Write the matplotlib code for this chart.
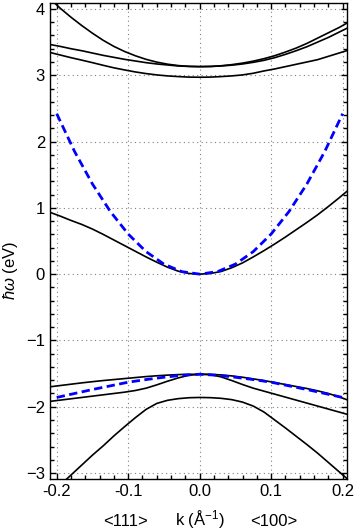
import numpy as np
import matplotlib
matplotlib.use('Agg')
import matplotlib.pyplot as plt
from matplotlib.ticker import MultipleLocator
from matplotlib.transforms import blended_transform_factory

plt.rcParams['font.family'] = 'Liberation Sans'
plt.rcParams['mathtext.fontset'] = 'custom'
plt.rcParams['mathtext.rm'] = 'Liberation Sans'
plt.rcParams['mathtext.it'] = 'Liberation Sans:italic'

# wave vector (1/Angstrom): k<0 along <111>, k>0 along <100>
k = [-0.21, -0.195, -0.18, -0.165, -0.15, -0.135, -0.12, -0.105, -0.09, -0.075,
     -0.06, -0.045, -0.03, -0.015, 0.0, 0.015, 0.03, 0.045, 0.06, 0.075,
     0.09, 0.105, 0.12, 0.135, 0.15, 0.165, 0.18, 0.195, 0.21]

# upper conduction bands (eV)
cb_a = [4.16, 4.01, 3.875, 3.75, 3.634, 3.527, 3.435, 3.358, 3.294, 3.24,
        3.198, 3.167, 3.146, 3.134, 3.13, 3.133, 3.143, 3.16, 3.183, 3.213,
        3.25, 3.295, 3.35, 3.41, 3.48, 3.56, 3.64, 3.72, 3.81]
cb_b = [3.465, 3.435, 3.40, 3.37, 3.335, 3.30, 3.27, 3.24, 3.215, 3.19,
        3.17, 3.155, 3.14, 3.133, 3.13, 3.132, 3.14, 3.152, 3.17, 3.195,
        3.225, 3.265, 3.315, 3.37, 3.43, 3.50, 3.57, 3.65, 3.73]
cb_c = [3.345, 3.305, 3.265, 3.228, 3.19, 3.15, 3.112, 3.08, 3.05, 3.025,
        3.005, 2.99, 2.98, 2.972, 2.97, 2.972, 2.98, 2.99, 3.005, 3.03,
        3.065, 3.095, 3.13, 3.165, 3.20, 3.235, 3.285, 3.335, 3.385]
# lowest conduction band
cb_low = [0.935, 0.875, 0.81, 0.75, 0.68, 0.60, 0.515, 0.43, 0.345, 0.26,
          0.18, 0.105, 0.045, 0.01, 0.0, 0.01, 0.04, 0.097, 0.17, 0.26,
          0.355, 0.455, 0.56, 0.67, 0.78, 0.895, 1.02, 1.15, 1.285]
# valence bands
vb_hh = [-1.70, -1.68, -1.66, -1.64, -1.622, -1.605, -1.59, -1.575, -1.56, -1.545,
         -1.533, -1.523, -1.515, -1.511, -1.51, -1.512, -1.52, -1.535, -1.555, -1.58,
         -1.605, -1.635, -1.665, -1.695, -1.725, -1.76, -1.80, -1.85, -1.91]
vb_lh = [-1.92, -1.90, -1.88, -1.86, -1.84, -1.82, -1.80, -1.78, -1.755, -1.72,
         -1.67, -1.615, -1.565, -1.525, -1.51, -1.515, -1.55, -1.605, -1.665, -1.72,
         -1.765, -1.81, -1.855, -1.90, -1.945, -1.99, -2.035, -2.08, -2.125]
vb_so = [-3.33, -3.18, -3.03, -2.88, -2.73, -2.59, -2.44, -2.30, -2.165, -2.04,
         -1.95, -1.903, -1.878, -1.864, -1.86, -1.863, -1.873, -1.893, -1.93, -1.99,
         -2.08, -2.20, -2.32, -2.445, -2.57, -2.70, -2.84, -2.98, -3.12]

# simple-model curves (blue dashed)
k_model = [-0.2, -0.175, -0.15, -0.125, -0.1, -0.075, -0.05, -0.025, 0.0,
           0.025, 0.05, 0.075, 0.1, 0.125, 0.15, 0.175, 0.2]
cb_model = [2.42, 1.85, 1.36, 0.945, 0.605, 0.34, 0.151, 0.038, 0.0,
            0.038, 0.151, 0.34, 0.605, 0.945, 1.36, 1.85, 2.42]
vb_model = [-1.86, -1.80, -1.74, -1.685, -1.63, -1.59, -1.555, -1.525, -1.51,
            -1.525, -1.555, -1.59, -1.63, -1.685, -1.74, -1.80, -1.86]

fig = plt.figure(figsize=(3.54, 5.32), dpi=100)
ax = fig.add_axes([0.141, 0.0996, 0.839, 0.8948])

for band in [cb_a, cb_b, cb_c, cb_low, vb_hh, vb_lh, vb_so]:
    ax.plot(k, band, color='black', lw=1.2, zorder=3)
for band in [cb_model, vb_model]:
    ax.plot(k_model, band, color='blue', lw=2.0, dashes=(3, 1.6), zorder=4)

ax.set_xlim(-0.2095, 0.206)
ax.set_ylim(-3.09, 4.09)
ax.xaxis.set_major_locator(MultipleLocator(0.1))
ax.xaxis.set_minor_locator(MultipleLocator(0.02))
ax.yaxis.set_major_locator(MultipleLocator(1))
ax.yaxis.set_minor_locator(MultipleLocator(0.2))
ax.xaxis.set_major_formatter(plt.FormatStrFormatter('%.1f'))
ax.tick_params(which='both', direction='in', top=True, right=True,
               labelsize=12, width=1.0)
ax.tick_params(which='major', length=4.3)
ax.tick_params(which='minor', length=2.6)
for s in ax.spines.values():
    s.set_linewidth(1.0)
ax.grid(True, which='major', color='gray', linestyle=(0, (1, 3)), lw=0.8)

# axis labels
tr = blended_transform_factory(ax.transData, fig.transFigure)
ax.text(0.0, 0.0115, 'k (Å$^{-1}$)', transform=tr, ha='center', va='baseline', fontsize=12)
ax.text(-0.104, 0.0115, '<111>', transform=tr, ha='center', va='baseline', fontsize=12)
ax.text(0.103, 0.0115, '<100>', transform=tr, ha='center', va='baseline', fontsize=12)
fig.text(0.03, 0.492, r'$\hbar\omega$ (eV)', rotation=90, ha='center', va='center', fontsize=12)

fig.savefig('out.png', dpi=100)
